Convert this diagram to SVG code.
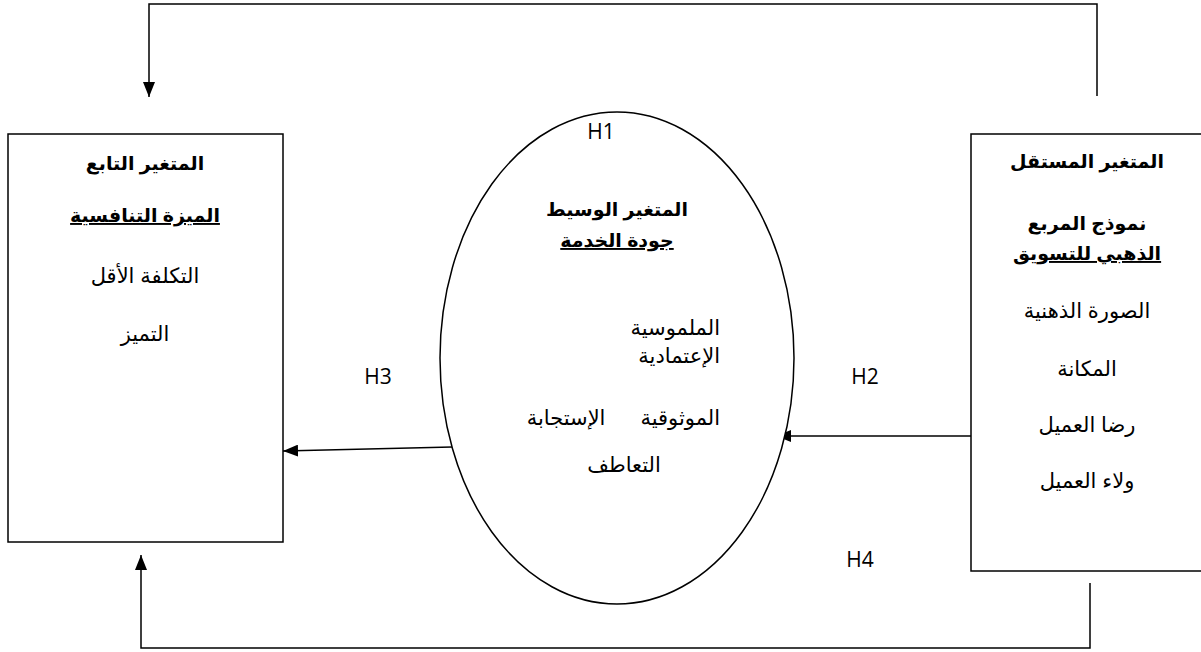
<svg xmlns="http://www.w3.org/2000/svg" width="1201" height="652" viewBox="0 0 1201 652">
  <style>
    .box { fill: #fff; stroke: #000; stroke-width: 1.5; }
    .wire { fill: none; stroke: #000; stroke-width: 1.5; }
    .ar { font-family: "Liberation Sans", "DejaVu Sans", sans-serif; font-size: 21px; fill: #000; }
    .b { font-weight: bold; font-size: 19px; }
    .u { text-decoration: underline; }
    .h { font-family: "Open Sans", "Liberation Sans", sans-serif; font-size: 21px; fill: #000; text-anchor: middle; }
    .c { text-anchor: middle; }
  </style>
  <defs>
    <marker id="tip" markerUnits="userSpaceOnUse" markerWidth="16" markerHeight="12" refX="15" refY="6" orient="auto">
      <path d="M0,0 L15,6 L0,12 z" fill="#000"/>
    </marker>
  </defs>

  <g id="connectors">
    <path class="wire" d="M1097,96 V4 H149 V97" marker-end="url(#tip)"/>
    <path class="wire" d="M1090,583 V648 H141 V555" marker-end="url(#tip)"/>
    <path class="wire" d="M971,436 H776" marker-end="url(#tip)"/>
    <path class="wire" d="M452,447 L283,451" marker-end="url(#tip)"/>
  </g>

  <g id="dependent">
    <rect class="box" x="8" y="134" width="275" height="408"/>
    <text class="ar b c" x="145" y="170">المتغير التابع</text>
    <text class="ar b u c" x="145" y="222">الميزة التنافسية</text>
    <text class="ar c" x="145" y="283">التكلفة الأقل</text>
    <text class="ar c" x="145" y="341">التميز</text>
  </g>

  <g id="mediator">
    <ellipse class="box" cx="617" cy="358" rx="177" ry="246"/>
    <text class="ar b c" x="617" y="216">المتغير الوسيط</text>
    <text class="ar b u c" x="617" y="247">جودة الخدمة</text>
    <text class="ar" x="720" y="335" text-anchor="end">الملموسية</text>
    <text class="ar" x="720" y="363" text-anchor="end">الإعتمادية</text>
    <text class="ar" x="720" y="425" text-anchor="end" xml:space="preserve">الموثوقية      الإستجابة</text>
    <text class="ar c" x="624" y="472">التعاطف</text>
  </g>

  <g id="independent">
    <rect class="box" x="971" y="134" width="240" height="437"/>
    <text class="ar b c" x="1087" y="168">المتغير المستقل</text>
    <text class="ar b c" x="1087" y="230">نموذج المربع</text>
    <text class="ar b u c" x="1087" y="260">الذهبي للتسويق</text>
    <text class="ar c" x="1087" y="318">الصورة الذهنية</text>
    <text class="ar c" x="1087" y="376">المكانة</text>
    <text class="ar c" x="1087" y="432">رضا العميل</text>
    <text class="ar c" x="1087" y="488">ولاء العميل</text>
  </g>

  <g id="hypotheses">
    <text class="h" x="601" y="139">H1</text>
    <text class="h" x="865" y="384">H2</text>
    <text class="h" x="378" y="384">H3</text>
    <text class="h" x="860" y="567">H4</text>
  </g>
</svg>
